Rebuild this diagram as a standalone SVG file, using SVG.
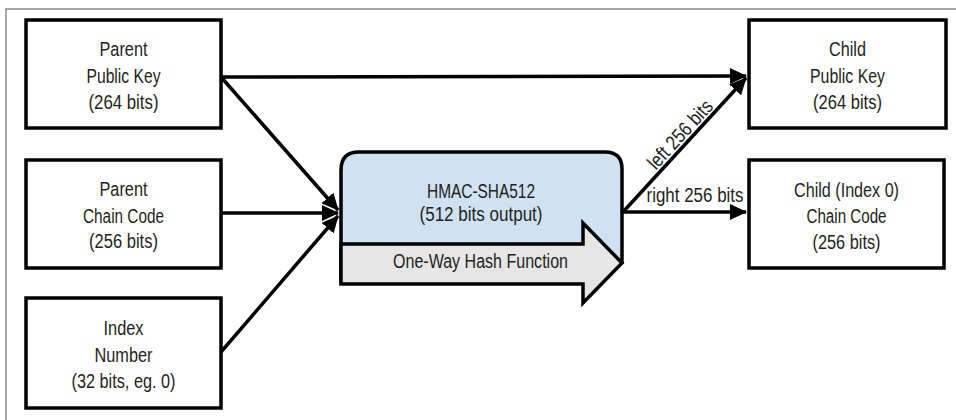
<svg xmlns="http://www.w3.org/2000/svg" width="956" height="420" viewBox="0 0 956 420">
<defs>
<style>
.box{fill:#fff;stroke:#000;stroke-width:3.5}
.t{font-family:"Liberation Sans",Arial,sans-serif;font-size:20px;fill:#231f20;text-anchor:middle}
.c{fill:none;stroke:#000;stroke-width:3.5}
</style>
<marker id="ah" markerUnits="userSpaceOnUse" markerWidth="18" markerHeight="16" refX="16" refY="8" orient="auto">
<path d="M0,0 L17,8 L0,16 z" fill="#000"/>
</marker>
</defs>
<rect width="956" height="420" fill="#fff"/>
<path d="M6,420 V9 H956" fill="none" stroke="#8a8a8a" stroke-width="1.5"/>
<g id="connectors">
<path class="c" d="M221,77 L746,76" marker-end="url(#ah)"/>
<path class="c" d="M221,77 L338,210" marker-end="url(#ah)"/>
<path class="c" d="M221,213 L338,213" marker-end="url(#ah)"/>
<path class="c" d="M221,352 L338,216" marker-end="url(#ah)"/>
<path class="c" d="M623,212 L746,78" marker-end="url(#ah)"/>
<path class="c" d="M623,212 L746,212" marker-end="url(#ah)"/>
<text class="t" x="695" y="202" textLength="97" lengthAdjust="spacingAndGlyphs">right 256 bits</text>
<text class="t" transform="translate(685,139) rotate(-47.4)" textLength="86" lengthAdjust="spacingAndGlyphs">left 256 bits</text>
</g>
<g id="parent-public-key">
<rect class="box" x="26" y="20" width="195" height="108"/>
<text class="t" x="123.5" y="56" textLength="48" lengthAdjust="spacingAndGlyphs">Parent</text>
<text class="t" x="123.5" y="82.5" textLength="74" lengthAdjust="spacingAndGlyphs">Public Key</text>
<text class="t" x="123.5" y="109" textLength="70" lengthAdjust="spacingAndGlyphs">(264 bits)</text>
</g>
<g id="parent-chain-code">
<rect class="box" x="26" y="160" width="195" height="108"/>
<text class="t" x="123.5" y="196" textLength="48" lengthAdjust="spacingAndGlyphs">Parent</text>
<text class="t" x="123.5" y="222.5" textLength="81" lengthAdjust="spacingAndGlyphs">Chain Code</text>
<text class="t" x="123.5" y="248" textLength="69" lengthAdjust="spacingAndGlyphs">(256 bits)</text>
</g>
<g id="index-number">
<rect class="box" x="26" y="298" width="195" height="110"/>
<text class="t" x="123.5" y="335" textLength="40" lengthAdjust="spacingAndGlyphs">Index</text>
<text class="t" x="123.5" y="362" textLength="58" lengthAdjust="spacingAndGlyphs">Number</text>
<text class="t" x="123.5" y="388" textLength="104" lengthAdjust="spacingAndGlyphs">(32 bits, eg. 0)</text>
</g>
<g id="hmac">
<path d="M341,284 V170 Q341,152 359,152 H605 Q622,152 622,169 V263 L583,224 V244 H341 Z" fill="#cfe2f3" stroke="none"/>
<path d="M341,284 V170 Q341,152 359,152 H605 Q622,152 622,169 V263" fill="none" stroke="#000" stroke-width="3.5"/>
<polygon points="341,244 583,244 583,223 622,263 583,303 583,284 341,284" fill="#e6e6e6" stroke="#000" stroke-width="3.5" stroke-linejoin="miter"/>
<text class="t" x="481" y="198" textLength="108" lengthAdjust="spacingAndGlyphs">HMAC-SHA512</text>
<text class="t" x="481" y="221" textLength="123" lengthAdjust="spacingAndGlyphs">(512 bits output)</text>
<text class="t" x="480.5" y="268" textLength="175" lengthAdjust="spacingAndGlyphs">One-Way Hash Function</text>
</g>
<g id="child-public-key">
<rect class="box" x="749" y="20" width="197" height="108"/>
<text class="t" x="847.5" y="56" textLength="37" lengthAdjust="spacingAndGlyphs">Child</text>
<text class="t" x="847.5" y="82.5" textLength="75" lengthAdjust="spacingAndGlyphs">Public Key</text>
<text class="t" x="847.5" y="109" textLength="69" lengthAdjust="spacingAndGlyphs">(264 bits)</text>
</g>
<g id="child-chain-code">
<rect class="box" x="749" y="160" width="195" height="108"/>
<text class="t" x="846.5" y="197" textLength="105" lengthAdjust="spacingAndGlyphs">Child (Index 0)</text>
<text class="t" x="846.5" y="223" textLength="80" lengthAdjust="spacingAndGlyphs">Chain Code</text>
<text class="t" x="846.5" y="249" textLength="68" lengthAdjust="spacingAndGlyphs">(256 bits)</text>
</g>
</svg>
